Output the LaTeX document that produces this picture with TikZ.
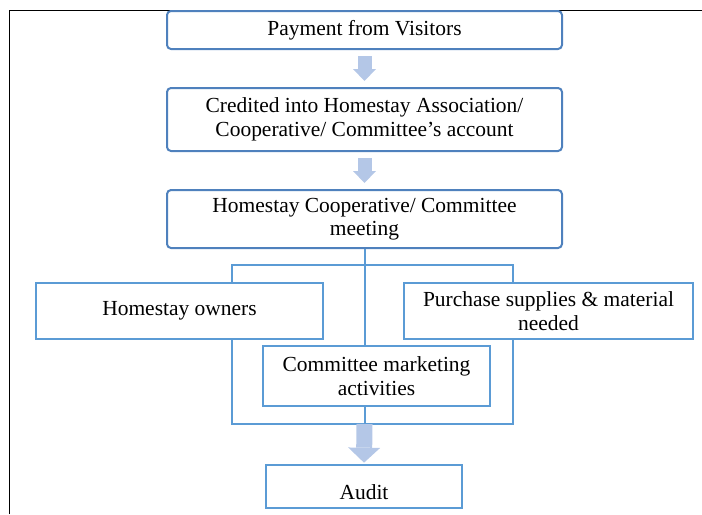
\documentclass[tikz,border=0pt]{standalone}
\usepackage{fontspec}
\setmainfont{Liberation Serif}
\usetikzlibrary{arrows.meta,positioning,calc}
\definecolor{edgeblue}{RGB}{79,129,189}
\definecolor{lineblue}{RGB}{91,155,213}
\definecolor{fillblue}{RGB}{180,199,231}

\begin{document}
\begin{tikzpicture}[
  x=0.75pt, y=-0.75pt,
  font=\fontsize{16.1}{17.6}\selectfont,
  box/.style={draw, line width=1.5pt, fill=white, align=center, inner sep=0pt},
  rbox/.style={box, draw=edgeblue, rounded corners=3pt, minimum width=296.25pt},
  sbox/.style={box, draw=lineblue},
  link/.style={draw=lineblue, line width=1.5pt},
  flow/.style={draw=fillblue, line width=10.5pt, shorten <=4.5pt, shorten >=4.5pt,
    -{Triangle[width=17.25pt, length=9pt, line width=0pt]}},
  bigflow/.style={flow, line width=12pt, shorten <=0pt, shorten >=1pt,
    -{Triangle[width=24pt, length=11.25pt, line width=0pt]}}
]
\useasboundingbox (0,0) rectangle (702,514);

% frame
\draw[line width=0.75pt] (9,514) -- (9,10) -- (702,10);

% bracket behind the three tasks
\coordinate (tl) at (232,265);
\coordinate (br) at (513,424);
\draw[link] (tl) rectangle (br);

% flow column
\node[rbox, minimum height=28.5pt] (pay) at (364.5,30) {Payment from Visitors};
\node[rbox, minimum height=47.25pt] (cred) at (364.5,119.5)
  {Credited into Homestay Association/\\Cooperative/ Committee's account};
\node[rbox, minimum height=43.5pt] (meet) at (364.5,219)
  {Homestay Cooperative/ Committee\\meeting};
\draw[link] (meet.south) -- (meet.south |- br);

\draw[flow] (pay) -- (cred);
\draw[flow] (cred) -- (meet);

% tasks
\node[sbox, minimum width=215.25pt, minimum height=42pt] (own) at (179.5,311) {Homestay owners};
\node[sbox, minimum width=216.75pt, minimum height=42pt] (buy) at (548.5,311)
  {Purchase supplies \& material\\needed};
\node[sbox, minimum width=170.25pt, minimum height=45pt] (mkt) at (376.5,376)
  {Committee marketing\\activities};

% audit
\node[sbox, minimum width=147pt, minimum height=32.25pt, text height=19pt] (audit) at (364,486.5) {Audit};
\coordinate (out) at (meet.south |- br);
\draw[bigflow] (out) -- (audit.north);

\end{tikzpicture}
\end{document}
